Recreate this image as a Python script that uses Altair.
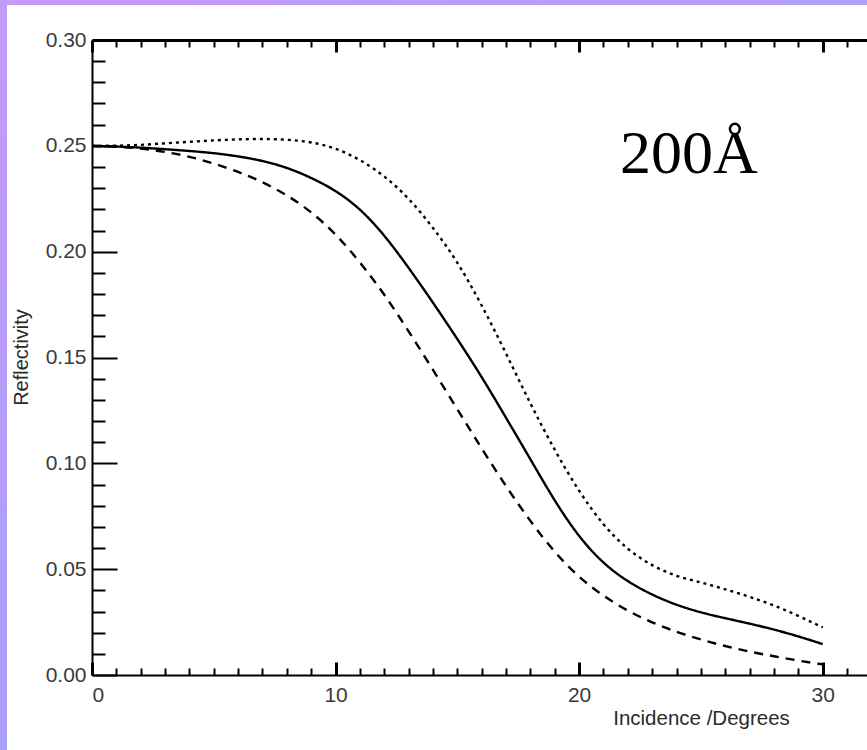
import altair as alt
import pandas as pd

# Angle of incidence (degrees) and reflectivity of the three curves
incidence = list(range(31))
refl_mid = [0.2500, 0.2497, 0.2492, 0.2484, 0.2476, 0.2466, 0.2451, 0.2430, 0.2398, 0.2350,
            0.2290, 0.2205, 0.2080, 0.1925, 0.1760, 0.1588, 0.1410, 0.1215, 0.1020, 0.0820,
            0.0650, 0.0525, 0.0440, 0.0378, 0.0330, 0.0295, 0.0268, 0.0243, 0.0215, 0.0183,
            0.0146]
refl_low = [0.2500, 0.2496, 0.2488, 0.2472, 0.2450, 0.2417, 0.2378, 0.2330, 0.2268, 0.2190,
            0.2085, 0.1952, 0.1800, 0.1625, 0.1442, 0.1255, 0.1070, 0.0890, 0.0725, 0.0578,
            0.0460, 0.0372, 0.0302, 0.0247, 0.0203, 0.0167, 0.0136, 0.0110, 0.0088, 0.0068,
            0.0050]
refl_high = [0.2500, 0.2500, 0.2504, 0.2512, 0.2519, 0.2526, 0.2531, 0.2533, 0.2530, 0.2519,
             0.2490, 0.2436, 0.2360, 0.2255, 0.2115, 0.1955, 0.1750, 0.1520, 0.1280, 0.1060,
             0.0865, 0.0705, 0.0590, 0.0515, 0.0465, 0.0438, 0.0405, 0.0370, 0.0330, 0.0280,
             0.0225]
curve_names = ["mid", "low", "high"]

x_label_values = [0, 10, 20, 30]
x_tick_values = list(range(0, 32))
y_label_values = [0.00, 0.05, 0.10, 0.15, 0.20, 0.25, 0.30]
y_tick_values = [round(i * 0.01, 2) for i in range(31)]
thickness_label = ["200Å"]

rows = []
for name, vals in zip(curve_names, [refl_mid, refl_low, refl_high]):
    for xv, yv in zip(incidence, vals):
        rows.append({"incidence": xv, "reflectivity": yv, "curve": name})
df = pd.DataFrame(rows)

W, H = 775, 635
SANS = "Liberation Sans"
xs = alt.Scale(domain=[0, 31.82], nice=False, zero=False)
ys = alt.Scale(domain=[0, 0.30], nice=False)

base = alt.Chart(df)

# curves plus the labelled axes (left and bottom)
lines = base.mark_line(interpolate="basis", color="black").encode(
    x=alt.X("incidence:Q", scale=xs, axis=alt.Axis(
        orient="bottom", values=x_label_values, ticks=False, tickSize=0, grid=False,
        domain=True, domainColor="black", domainWidth=2,
        labelFont=SANS, labelFontSize=21, labelColor="#3a3a3a", labelPadding=9,
        title="Incidence /Degrees", titleFont=SANS, titleFontSize=20.5,
        titleFontWeight="normal", titleColor="#2a2a2a", titleX=609, titleY=49,
        titleAlign="center", titleBaseline="alphabetic", titleAngle=0)),
    y=alt.Y("reflectivity:Q", scale=ys, axis=alt.Axis(
        orient="left", values=y_label_values, format=".2f", ticks=False, tickSize=0,
        grid=False, domain=True, domainColor="black", domainWidth=2,
        labelFont=SANS, labelFontSize=21, labelColor="#3a3a3a", labelPadding=6,
        title="Reflectivity", titleFont=SANS, titleFontSize=20,
        titleFontWeight="normal", titleColor="#2a2a2a", titleX=-65, titleY=317,
        titleAlign="center", titleBaseline="alphabetic", titleAngle=270)),
    strokeDash=alt.StrokeDash("curve:N", scale=alt.Scale(
        domain=curve_names, range=[[1, 0], [9, 7], [3, 4]]), legend=None),
    strokeWidth=alt.StrokeWidth("curve:N", scale=alt.Scale(
        domain=curve_names, range=[2.4, 2.4, 2.0]), legend=None),
)

x_major = "datum.value % 10 === 0"
y_major = "round(datum.value * 100) % 5 === 0"

# inward-pointing ticks along the bottom and left edges
inner_ticks = base.mark_point(opacity=0).encode(
    x=alt.X("incidence:Q", scale=xs, axis=alt.Axis(
        orient="top", offset=-H, values=x_tick_values, labels=False, domain=False,
        grid=False, title=None, tickColor="black",
        tickSize={"condition": {"test": x_major, "value": 13}, "value": 7},
        tickWidth={"condition": {"test": x_major, "value": 3}, "value": 2})),
    y=alt.Y("reflectivity:Q", scale=ys, axis=alt.Axis(
        orient="right", offset=-W, values=y_tick_values, labels=False, domain=False,
        grid=False, title=None, tickColor="black",
        tickSize={"condition": {"test": y_major, "value": 25}, "value": 13},
        tickWidth=2)),
)

# top frame line with its own downward ticks
top_frame = base.mark_point(opacity=0).encode(
    x=alt.X("incidence:Q", scale=xs, axis=alt.Axis(
        orient="bottom", offset=-H, values=x_tick_values, labels=False,
        domain=True, domainColor="black", domainWidth=3,
        grid=False, title=None, tickColor="black",
        tickSize={"condition": {"test": x_major, "value": 12}, "value": 7},
        tickWidth={"condition": {"test": x_major, "value": 3}, "value": 2})),
    y=alt.Y("reflectivity:Q", scale=ys, axis=None),
)

label = alt.Chart(pd.DataFrame({"text": thickness_label})).mark_text(
    font="Liberation Serif", fontSize=62, color="black", align="left",
    baseline="alphabetic").encode(
    x=alt.X(datum=21.68, type="quantitative", scale=xs, axis=None),
    y=alt.Y(datum=0.2372, type="quantitative", scale=ys, axis=None),
    text="text:N",
)

# lavender slide border along the left and top edges
one = pd.DataFrame({"k": [0]})
left_band = alt.Chart(one).mark_rect(color=alt.Gradient(
    gradient="linear", x1=0, x2=0, y1=0, y2=1,
    stops=[alt.GradientStop(color="#c59af8", offset=0),
           alt.GradientStop(color="#a9a0f8", offset=1)])).encode(
    x=alt.value(-92), x2=alt.value(-85), y=alt.value(-40), y2=alt.value(H + 75))
top_band = alt.Chart(one).mark_rect(color=alt.Gradient(
    gradient="linear", x1=0, x2=1, y1=0, y2=0,
    stops=[alt.GradientStop(color="#c59af8", offset=0),
           alt.GradientStop(color="#b3a0f7", offset=1)])).encode(
    x=alt.value(-92), x2=alt.value(W), y=alt.value(-40), y2=alt.value(-35))

chart = alt.layer(
    lines, inner_ticks, top_frame, label, left_band, top_band
).resolve_axis(x="independent", y="independent").properties(
    width=W, height=H,
    autosize=alt.AutoSizeParams(type="none"),
    padding={"left": 92, "top": 40, "right": 0, "bottom": 75},
    background="white",
).configure_view(stroke=None)

chart.save("out.html", embed_options={"renderer": "svg", "actions": False})
